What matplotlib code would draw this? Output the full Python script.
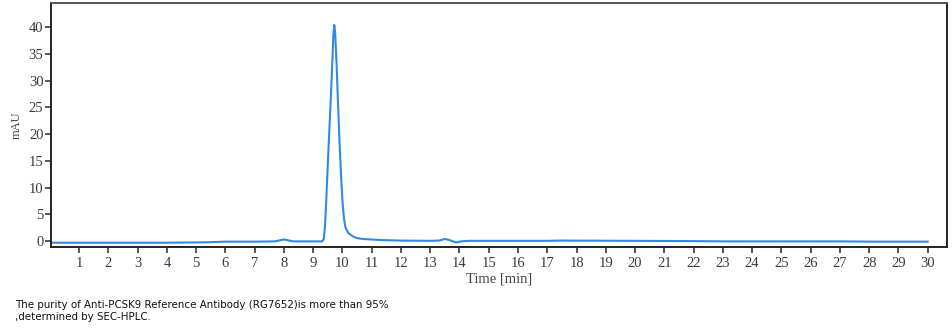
import matplotlib
matplotlib.use('Agg')
from matplotlib import pyplot as plt

# chromatogram (time in min, signal in mAU)
tiempo = [0.05, 1, 2, 3, 4, 5, 5.5, 6, 7, 7.7, 7.9, 8.0, 8.1, 8.3, 9.0, 9.30,
          9.36, 9.40, 9.45, 9.50, 9.55, 9.60, 9.65, 9.69, 9.72, 9.75, 9.80,
          9.85, 9.90, 9.95, 10.0, 10.05, 10.10, 10.2, 10.35, 10.5, 10.7, 11.0,
          11.3, 12, 13, 13.3, 13.5, 13.65, 13.8, 13.9, 14.05, 14.3, 15, 17,
          17.5, 20, 22, 23, 25, 27, 28, 30]
senal = [-0.3, -0.3, -0.3, -0.3, -0.3, -0.25, -0.2, -0.1, -0.1, -0.05, 0.2,
         0.3, 0.2, -0.05, -0.05, -0.05, 0.3, 2.5, 8.0, 14.5, 20.5, 26.5, 33.0,
         38.5, 40.4, 39.0, 33.0, 25.5, 18.5, 12.5, 7.5, 4.3, 2.6, 1.5, 0.9,
         0.56, 0.4, 0.3, 0.2, 0.1, 0.05, 0.1, 0.4, 0.2, -0.1, -0.25, -0.05,
         0.05, 0.05, 0.05, 0.1, 0.05, 0.0, -0.05, -0.05, -0.05, -0.1, -0.1]

xticks = list(range(1, 31))
yticks = list(range(0, 41, 5))

plt.rcParams['font.family'] = ['Liberation Serif', 'DejaVu Serif']

fig = plt.figure(figsize=(9.52, 3.35), dpi=100)
ax = fig.add_axes([0.0536, 0.2627, 0.9408, 0.7283])

ax.plot(tiempo, senal, color='#3189e6', linewidth=1.5)

ax.set_xlim(0.04, 30.65)
ax.set_ylim(-1.1, 44.5)
ax.set_xticks(xticks)
ax.set_yticks(yticks)
ax.tick_params(axis='both', direction='out', length=4, width=1.2,
               labelsize=10.5, colors='#3a3a3a')
ax.tick_params(axis='x', pad=3)
ax.tick_params(axis='y', pad=1.5)
for s in ax.spines.values():
    s.set_linewidth(1.4)
    s.set_color('#222222')
ax.spines['top'].set_color('#555555')

ax.set_xlabel('Time [min]', fontsize=10.5, color='#444444', labelpad=2)
ax.set_ylabel('mAU', fontsize=9, color='#444444', labelpad=4)

fig.text(0.0158, 0.071, 'The purity of Anti-PCSK9 Reference Antibody (RG7652)is more than 95%\n,determined by SEC-HPLC.',
         family='DejaVu Sans', fontsize=7.4, color='#111111', linespacing=1.2,
         va='center', ha='left')

plt.savefig('out.png', dpi=100)
